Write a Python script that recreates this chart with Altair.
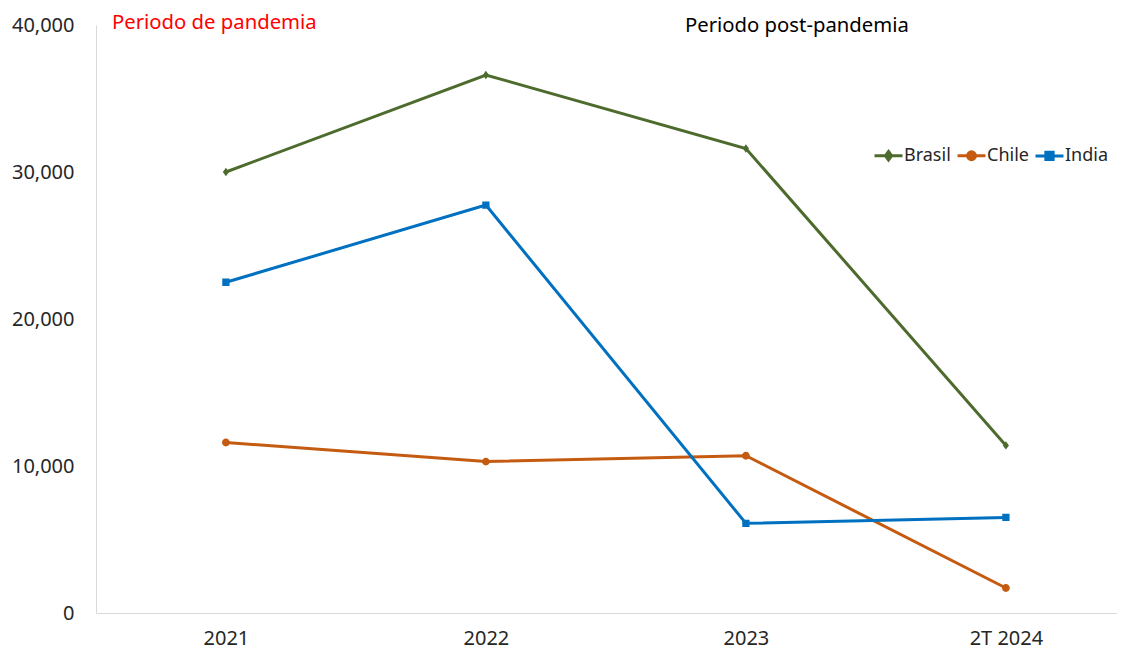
import altair as alt
import pandas as pd

years = ["2021", "2022", "2023", "2T 2024"]
series = ["Brasil", "Chile", "India"]
brasil = [30000, 36600, 31600, 11400]
chile = [11600, 10300, 10700, 1700]
india = [22500, 27750, 6100, 6500]
colors = ["#4E6B2E", "#C55A11", "#0070C0"]
y_ticks = [0, 10000, 20000, 30000, 40000]

# marker paths: a horizontal stroke (visible only in legend) + filled marker
shapes = [
    "M-1,0L1,0M0,-0.3L0.22,0L0,0.3L-0.22,0Z",
    "M-1,0L1,0M-0.28,0A0.28,0.28 0 1,0 0.28,0A0.28,0.28 0 1,0 -0.28,0Z",
    "M-1,0L1,0M-0.26,-0.26L0.26,-0.26L0.26,0.26L-0.26,0.26Z",
]

rows = []
for name, vals in zip(series, [brasil, chile, india]):
    for yr, v in zip(years, vals):
        rows.append({"periodo": yr, "pais": name, "valor": v})
df = pd.DataFrame(rows)

FONT = "Noto Sans"
FS = 20
FS_ANN = 20.3

legend = alt.Legend(
    title=None,
    orient="none",
    legendX=777,
    legendY=115,
    direction="horizontal",
    labelFont=FONT,
    labelFontSize=18,
    labelColor="#262626",
    labelOffset=0,
    columnPadding=0,
    symbolSize=784,
    symbolStrokeWidth=3,
)

x_enc = alt.X(
    "periodo:N",
    sort=years,
    scale=alt.Scale(type="point", padding=0.4635, align=0.539),
    axis=alt.Axis(
        title=None,
        labelAngle=0,
        labelFont=FONT,
        labelFontSize=FS,
        labelColor="#262626",
        labelPadding=15,
        ticks=False,
        domainColor="#D9D9D9",
        domainWidth=1,
        grid=False,
    ),
)
y_enc = alt.Y(
    "valor:Q",
    scale=alt.Scale(domain=[0, 40000], nice=False),
    axis=alt.Axis(
        title=None,
        values=y_ticks,
        format=",.0f",
        labelFont=FONT,
        labelFontSize=FS,
        labelColor="#262626",
        labelPadding=22,
        ticks=False,
        domainColor="#D9D9D9",
        domainWidth=1,
        grid=False,
    ),
)
color_scale = alt.Scale(domain=series, range=colors)

base = alt.Chart(df)

lines = base.mark_line(strokeWidth=3).encode(
    x=x_enc,
    y=y_enc,
    stroke=alt.Stroke("pais:N", scale=color_scale, legend=legend),
    detail="pais:N",
)

points = base.mark_point(filled=True, size=784, strokeWidth=0, opacity=1).encode(
    x=x_enc,
    y=y_enc,
    fill=alt.Fill("pais:N", scale=color_scale, legend=legend),
    stroke=alt.Stroke("pais:N", scale=color_scale, legend=legend),
    shape=alt.Shape("pais:N", scale=alt.Scale(domain=series, range=shapes), legend=legend),
)

ann1 = alt.Chart(pd.DataFrame({"t": ["Periodo de pandemia"]})).mark_text(
    font=FONT, fontSize=FS_ANN, color="#FF0000", align="left", baseline="alphabetic"
).encode(text="t:N", x=alt.value(16), y=alt.value(4))

ann2 = alt.Chart(pd.DataFrame({"t": ["Periodo post-pandemia"]})).mark_text(
    font=FONT, fontSize=FS_ANN, color="#000000", align="left", baseline="alphabetic"
).encode(text="t:N", x=alt.value(589), y=alt.value(7))

chart = (
    alt.layer(lines, points, ann1, ann2)
    .properties(
        width=1021,
        height=588,
        autosize="none",
        padding={"left": 88, "top": 17, "right": 0, "bottom": 35},
        background="white",
    )
    .configure_view(stroke=None)
)

chart.save("out.html", embed_options={"renderer": "svg", "actions": False})
